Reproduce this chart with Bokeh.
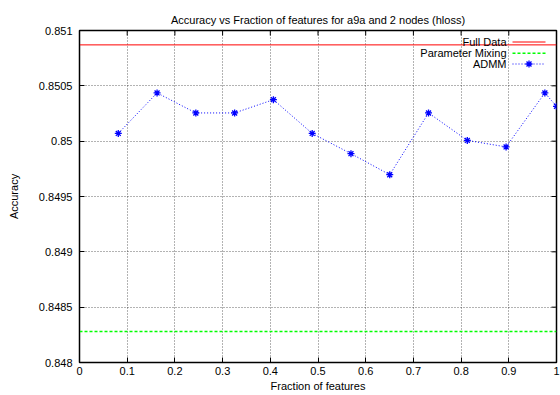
from bokeh.plotting import figure
from bokeh.models import (Range1d, FixedTicker, CustomJSTickFormatter, Title)
from bokeh.core.properties import value
from bokeh.embed import file_html
from bokeh.resources import INLINE

# ---- data ----
n_features_total = 123
n_features = [10, 20, 30, 40, 50, 60, 70, 80, 90, 100, 110, 120, 123]
admm_acc = [0.85007, 0.850436, 0.850255, 0.850255, 0.850375, 0.85007,
            0.849887, 0.849697, 0.850255, 0.850007, 0.849948, 0.850436, 0.850315]
full_data_acc = 0.85087
param_mix_acc = 0.84828
x_ticks = [0, 0.1, 0.2, 0.3, 0.4, 0.5, 0.6, 0.7, 0.8, 0.9, 1.0]
y_ticks = [0.848, 0.8485, 0.849, 0.8495, 0.85, 0.8505, 0.851]
series_names = ["Full Data", "Parameter Mixing", "ADMM"]
title_text = "Accuracy vs Fraction of features for a9a and 2 nodes (hloss)"

frac = [n / n_features_total for n in n_features]

FONT = "Liberation Sans"
W, H = 560, 395
BL, BR, BT, BB = 79, 4, 30, 33
X0, X1 = 0.0, 1.0
Y0, Y1 = 0.848, 0.851
RED, GREEN, BLUE = "#ff0000", "#00ff00", "#0000ff"

p = figure(width=W, height=H, output_backend="svg", toolbar_location=None,
           x_range=Range1d(X0, X1), y_range=Range1d(Y0, Y1),
           min_border_left=BL, min_border_right=BR, min_border_top=BT,
           min_border_bottom=BB, background_fill_color="white",
           border_fill_color="white")
p.title = Title(text=title_text, align="center", text_font=FONT,
                text_font_size="11px", text_font_style="normal",
                text_color="black", standoff=10)

p.outline_line_color = "black"
p.outline_line_width = 1.5

fmt = CustomJSTickFormatter(code="return String(Number(tick.toFixed(6)));")

for ax, ticks in ((p.xaxis[0], x_ticks), (p.yaxis[0], y_ticks)):
    ax.ticker = FixedTicker(ticks=ticks)
    ax.formatter = fmt
    ax.major_tick_in = 5
    ax.major_tick_out = 0
    ax.minor_tick_in = 0
    ax.minor_tick_out = 0
    ax.major_label_text_font = FONT
    ax.major_label_text_font_size = "11px"
    ax.major_label_text_color = "black"
    ax.axis_label_text_font = FONT
    ax.axis_label_text_font_size = "11px"
    ax.axis_label_text_font_style = "normal"
    ax.axis_label_text_color = "black"
    ax.axis_line_color = "black"

p.xaxis[0].axis_label = "Fraction of features"
p.xaxis[0].major_label_standoff = 4
p.xaxis[0].axis_label_standoff = 2
p.yaxis[0].axis_label = "Accuracy"
p.yaxis[0].major_label_standoff = 7
p.yaxis[0].axis_label_standoff = 16

for g, ticks in ((p.xgrid[0], x_ticks), (p.ygrid[0], y_ticks)):
    g.ticker = FixedTicker(ticks=ticks)
    g.grid_line_color = "black"
    g.grid_line_alpha = 0.6
    g.grid_line_dash = "1 2"
    g.grid_line_width = 1

fw = W - BL - BR
fh = H - BT - BB

def sx(px):
    return X0 + (px - BL) / fw * (X1 - X0)

def sy(py):
    return Y1 - (py - BT) / fh * (Y1 - Y0)

# mirrored inward tick marks on top and right borders
tick_len_x = 5 / fw * (X1 - X0)
tick_len_y = 5 / fh * (Y1 - Y0)
p.segment(x_ticks, [Y1] * len(x_ticks), x_ticks, [Y1 - tick_len_y] * len(x_ticks),
          line_color="black", line_width=1)
p.segment([X1] * len(y_ticks), y_ticks, [X1 - tick_len_x] * len(y_ticks), y_ticks,
          line_color="black", line_width=1)

# series
p.line([X0, X1], [full_data_acc, full_data_acc], line_color=RED, line_width=1)
p.line([X0, X1], [param_mix_acc, param_mix_acc], line_color=GREEN,
       line_width=1.4, line_dash="3 2")
p.line(frac, admm_acc, line_color=BLUE, line_width=1, line_dash="1 2")
p.scatter(frac, admm_acc, marker="asterisk", size=7, line_color=BLUE,
          line_width=1.3)

# manual gnuplot-style legend (text, then sample to its right)
rows = [41.5, 52.7, 63.5]
text_x = sx(506)
seg_x0, seg_x1 = sx(512), sx(545)
p.text([text_x] * 3, [sy(r) for r in rows], text=series_names,
       text_align="right", text_baseline="middle", text_font=value(FONT),
       text_font_size="11px", text_color="black")
p.segment(seg_x0, sy(rows[0]), seg_x1, sy(rows[0]), line_color=RED, line_width=1)
p.segment(seg_x0, sy(rows[1]), seg_x1, sy(rows[1]), line_color=GREEN,
          line_width=1.4, line_dash="3 2")
p.segment(seg_x0, sy(rows[2]), seg_x1, sy(rows[2]), line_color=BLUE,
          line_width=1, line_dash="1 2")
p.scatter([(seg_x0 + seg_x1) / 2], [sy(rows[2])], marker="asterisk", size=7,
          line_color=BLUE, line_width=1.3)

open("out.html", "w").write(file_html(p, INLINE))
